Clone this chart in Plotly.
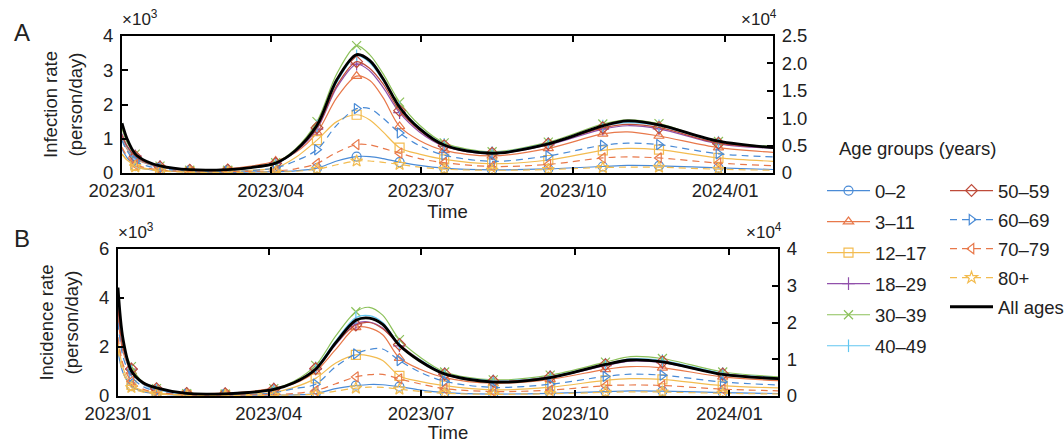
import plotly.graph_objects as go

# ---------------- data ----------------
DATES = ["2023-01-01", "2023-01-04", "2023-01-09", "2023-01-16", "2023-01-24",
         "2023-02-11", "2023-03-06", "2023-03-20", "2023-04-04", "2023-04-16",
         "2023-04-29", "2023-05-11", "2023-05-23", "2023-05-31", "2023-06-08",
         "2023-06-18", "2023-06-30", "2023-07-15", "2023-08-13", "2023-09-16",
         "2023-10-19", "2023-11-03", "2023-11-22", "2023-12-28", "2024-01-31"]
MARKER_DATES = ["2023-01-09", "2023-01-24", "2023-02-11", "2023-03-06", "2023-04-04",
                "2023-04-29", "2023-05-23", "2023-06-18", "2023-07-15", "2023-08-13",
                "2023-09-16", "2023-10-19", "2023-11-22", "2023-12-28"]
AGE_GROUPS = ["0–2", "3–11", "12–17", "18–29", "30–39", "40–49",
              "50–59", "60–69", "70–79", "80+"]
TOTAL_NAME = "All ages"
LEGEND_TITLE = "Age groups (years)"

# Infection rate (person/day)
INF_0_2   = [700, 450, 200, 110, 70, 30, 20, 30, 40, 60, 140, 350, 480, 480, 420, 320, 220, 140, 90, 120, 190, 220, 210, 150, 100]
INF_3_11  = [1000, 700, 420, 270, 170, 80, 120, 200, 350, 600, 1180, 2200, 2830, 2700, 2200, 1360, 950, 660, 500, 720, 1140, 1200, 1080, 740, 600]
INF_12_17 = [550, 380, 220, 130, 80, 30, 40, 80, 150, 450, 960, 1500, 1700, 1550, 1200, 740, 550, 400, 270, 380, 660, 720, 680, 440, 340]
INF_18_29 = [1150, 800, 500, 300, 190, 80, 80, 150, 280, 620, 1280, 2500, 3180, 2980, 2500, 1760, 1200, 780, 560, 820, 1280, 1380, 1290, 850, 720]
INF_30_39 = [1300, 900, 550, 330, 200, 80, 80, 150, 300, 700, 1500, 2900, 3720, 3450, 2900, 2070, 1400, 880, 620, 900, 1430, 1550, 1440, 920, 780]
INF_40_49 = [1050, 750, 450, 280, 170, 70, 80, 140, 270, 650, 1380, 2650, 3420, 3220, 2700, 1920, 1320, 840, 600, 870, 1370, 1470, 1380, 900, 760]
INF_50_59 = [1100, 780, 480, 290, 180, 80, 90, 150, 280, 650, 1320, 2550, 3250, 3050, 2600, 1820, 1250, 800, 580, 850, 1320, 1420, 1330, 870, 740]
INF_60_69 = [950, 650, 350, 210, 130, 50, 50, 70, 150, 350, 680, 1400, 1880, 1880, 1600, 1170, 800, 520, 340, 500, 810, 870, 830, 560, 470]
INF_70_79 = [750, 500, 250, 150, 90, 40, 40, 50, 60, 120, 280, 600, 830, 820, 720, 580, 420, 300, 190, 250, 440, 470, 440, 290, 210]
INF_80P   = [550, 380, 180, 110, 60, 20, 20, 20, 30, 50, 110, 240, 350, 350, 310, 250, 170, 110, 80, 100, 160, 170, 170, 110, 80]
INF_ALL   = [9100, 6300, 3500, 2100, 1300, 600, 620, 1000, 1800, 4100, 8700, 17000, 21600, 20500, 17200, 12000, 8100, 5100, 3600, 5300, 8600, 9500, 8800, 5800, 4600]

# Incidence rate (person/day)
INC_0_2   = [1800, 950, 400, 180, 100, 30, 20, 30, 40, 50, 100, 300, 420, 470, 460, 380, 250, 140, 80, 110, 180, 210, 200, 140, 100]
INC_3_11  = [3200, 1800, 1000, 500, 300, 120, 120, 180, 320, 500, 1000, 1900, 2800, 2780, 2500, 1550, 1100, 750, 520, 680, 1090, 1200, 1150, 780, 620]
INC_12_17 = [2200, 1150, 450, 220, 120, 40, 40, 70, 150, 350, 720, 1350, 1680, 1640, 1450, 820, 600, 420, 250, 360, 640, 710, 680, 420, 330]
INC_18_29 = [4200, 2200, 1100, 500, 280, 100, 80, 140, 280, 550, 1100, 2100, 2950, 3020, 2780, 2050, 1450, 880, 580, 760, 1240, 1420, 1360, 880, 700]
INC_30_39 = [3900, 2100, 1200, 550, 300, 100, 80, 140, 300, 600, 1250, 2450, 3440, 3620, 3300, 2300, 1600, 980, 660, 850, 1380, 1610, 1530, 980, 780]
INC_40_49 = [3700, 2000, 1000, 480, 260, 90, 80, 130, 270, 550, 1150, 2250, 3200, 3280, 3000, 2100, 1500, 930, 620, 800, 1300, 1520, 1450, 930, 740]
INC_50_59 = [3600, 1950, 1100, 500, 300, 100, 90, 140, 280, 550, 1120, 2150, 2900, 3000, 2750, 2100, 1480, 900, 600, 780, 1280, 1460, 1400, 900, 720]
INC_60_69 = [3000, 1600, 800, 380, 200, 60, 50, 60, 130, 300, 480, 1200, 1720, 1900, 1920, 1450, 980, 600, 350, 480, 800, 890, 850, 570, 450]
INC_70_79 = [2400, 1300, 600, 280, 150, 50, 40, 50, 60, 100, 220, 500, 780, 870, 880, 700, 500, 300, 180, 240, 420, 450, 430, 280, 210]
INC_80P   = [1900, 950, 350, 160, 90, 30, 20, 20, 30, 40, 80, 200, 320, 360, 350, 280, 190, 110, 70, 90, 150, 170, 160, 110, 80]
INC_ALL   = [29500, 15500, 6800, 3600, 2200, 700, 600, 950, 1800, 3600, 7300, 14500, 20600, 21200, 19500, 13800, 9600, 6000, 3800, 5000, 8600, 9800, 9300, 5900, 4700]

INF_GROUPS = [INF_0_2, INF_3_11, INF_12_17, INF_18_29, INF_30_39, INF_40_49, INF_50_59, INF_60_69, INF_70_79, INF_80P]
INC_GROUPS = [INC_0_2, INC_3_11, INC_12_17, INC_18_29, INC_30_39, INC_40_49, INC_50_59, INC_60_69, INC_70_79, INC_80P]

# axis ticks
INF_LEFT_TICKS = [0, 1000, 2000, 3000, 4000]
INF_LEFT_TEXT = ["0", "1", "2", "3", "4"]
INF_RIGHT_TICKS = [0, 5000, 10000, 15000, 20000, 25000]
INF_RIGHT_TEXT = ["0", "0.5", "1.0", "1.5", "2.0", "2.5"]
INC_LEFT_TICKS = [0, 2000, 4000, 6000]
INC_LEFT_TEXT = ["0", "2", "4", "6"]
INC_RIGHT_TICKS = [0, 10000, 20000, 30000, 40000]
INC_RIGHT_TEXT = ["0", "1", "2", "3", "4"]

# ---------------- styles ----------------
BLUE, ORANGE, YELLOW = "#4A8BD6", "#E8784A", "#F3BC50"
STYLES = {
    "0–2":   (BLUE, "solid", "circle-open"),
    "3–11":  (ORANGE, "solid", "triangle-up-open"),
    "12–17": (YELLOW, "solid", "square-open"),
    "18–29": ("#9150AB", "solid", "cross-thin-open"),
    "30–39": ("#8CC15A", "solid", "x-thin-open"),
    "40–49": ("#62C6F0", "solid", "line-ns-open"),
    "50–59": ("#BE4B3A", "solid", "diamond-open"),
    "60–69": (BLUE, "7px,5px", "triangle-right-open"),
    "70–79": (ORANGE, "7px,5px", "triangle-left-open"),
    "80+":   (YELLOW, "7px,5px", "star-open"),
}
FONT = "Liberation Sans, Arial, Helvetica, sans-serif"
TXT = "#222222"
FS = 18.5
W, H = 1064, 443

fig = go.Figure()
marker_idx = [DATES.index(m) for m in MARKER_DATES]


def add_panel(groups, total, xa, ya, ya_right):
    for name, vals in zip(AGE_GROUPS, groups):
        c, dash, sym = STYLES[name]
        fig.add_trace(go.Scatter(
            x=DATES, y=vals, mode="lines", xaxis=xa, yaxis=ya,
            line=dict(color=c, width=1.2, dash=dash, shape="spline", smoothing=0.9),
            showlegend=False, hoverinfo="skip"))
        fig.add_trace(go.Scatter(
            x=MARKER_DATES, y=[vals[i] for i in marker_idx], mode="markers",
            xaxis=xa, yaxis=ya,
            marker=dict(symbol=sym, size=9, color=c, line=dict(color=c, width=1.2)),
            showlegend=False, hoverinfo="skip"))
    fig.add_trace(go.Scatter(
        x=DATES, y=total, mode="lines", xaxis=xa, yaxis=ya_right,
        line=dict(color="black", width=2.8, shape="spline", smoothing=0.9),
        showlegend=False, hoverinfo="skip"))


add_panel(INF_GROUPS, INF_ALL, "x", "y", "y2")
add_panel(INC_GROUPS, INC_ALL, "x2", "y3", "y4")

# legend-only entries (two columns)
for k, name in enumerate(AGE_GROUPS):
    c, dash, sym = STYLES[name]
    fig.add_trace(go.Scatter(
        x=[None], y=[None], mode="lines+markers", name=name,
        legend="legend" if k < 6 else "legend2", legendgroup=name,
        line=dict(color=c, width=1.2, dash=dash),
        marker=dict(symbol=sym, size=9, color=c, line=dict(color=c, width=1.2)),
        xaxis="x", yaxis="y"))
fig.add_trace(go.Scatter(
    x=[None], y=[None], mode="lines", name=TOTAL_NAME, legend="legend2",
    legendgroup=TOTAL_NAME, line=dict(color="black", width=3), xaxis="x", yaxis="y"))


def xaxis_cfg(x0, x1, anchor):
    return dict(domain=[x0 / W, x1 / W], anchor=anchor, type="date", automargin=False,
                range=["2023-01-01", "2024-01-30"], tick0="2023-01-01", dtick="M3",
                tickformat="%Y/%m", ticks="inside", ticklen=6, tickwidth=1.5,
                tickcolor="black", showline=True, linewidth=2, linecolor="black",
                mirror="ticks", showgrid=False, zeroline=False,
                tickfont=dict(size=FS, color=TXT),
                title=dict(text="Time", standoff=2, font=dict(size=FS, color=TXT)))


def yaxis_cfg(y_top, y_bot, anchor, rng, tv, tt, title=None, right=False, over=None):
    d = dict(anchor=anchor, range=rng, tickvals=tv, ticktext=tt, ticks="inside",
             automargin=False,
             ticklen=6, tickwidth=1.5, tickcolor="black", showline=True, linewidth=2,
             linecolor="black", showgrid=False, zeroline=False,
             tickfont=dict(size=FS, color=TXT), ticklabelstandoff=3)
    if right:
        d.update(side="right", overlaying=over)
    else:
        d.update(domain=[1 - y_bot / H, 1 - y_top / H])
    if title:
        d["title"] = dict(text=title, standoff=16, font=dict(size=FS, color=TXT))
    return d


fig.update_layout(
    width=W, height=H, margin=dict(l=0, r=0, t=0, b=0, autoexpand=False),
    paper_bgcolor="white", plot_bgcolor="white",
    font=dict(family=FONT, size=FS, color=TXT),
    xaxis=xaxis_cfg(122, 773, "y"),
    xaxis2=xaxis_cfg(118, 778, "y3"),
    yaxis=yaxis_cfg(36, 173, "x", [0, 4000], INF_LEFT_TICKS, INF_LEFT_TEXT,
                    title="Infection rate<br>(person/day)"),
    yaxis2=yaxis_cfg(36, 173, "x", [0, 25000], INF_RIGHT_TICKS, INF_RIGHT_TEXT,
                     right=True, over="y"),
    yaxis3=yaxis_cfg(249, 396, "x2", [0, 6000], INC_LEFT_TICKS, INC_LEFT_TEXT,
                     title="Incidence rate<br>(person/day)"),
    yaxis4=yaxis_cfg(249, 396, "x2", [0, 40000], INC_RIGHT_TICKS, INC_RIGHT_TEXT,
                     right=True, over="y3"),
    legend=dict(x=822 / W, y=1 - 172 / H, xanchor="left", yanchor="top",
                bgcolor="rgba(0,0,0,0)", tracegroupgap=4, itemwidth=43,
                font=dict(size=FS, color=TXT)),
    legend2=dict(x=945 / W, y=1 - 172 / H, xanchor="left", yanchor="top",
                 bgcolor="rgba(0,0,0,0)", tracegroupgap=2, itemwidth=43,
                 font=dict(size=FS, color=TXT)),
)

ann = [
    dict(text="A", x=12 / W, y=1 - 32 / H, font=dict(size=24, color=TXT)),
    dict(text="B", x=12 / W, y=1 - 239 / H, font=dict(size=24, color=TXT)),
    dict(text=LEGEND_TITLE, x=837 / W, y=1 - 148 / H, font=dict(size=FS, color=TXT)),
]
for a in ann:
    a.update(xref="paper", yref="paper", xanchor="left", yanchor="middle", showarrow=False)

exps = [
    ("×10<sup>3</sup>", 120, 31, "left"),
    ("×10<sup>4</sup>", 779, 31, "right"),
    ("×10<sup>3</sup>", 116, 244, "left"),
    ("×10<sup>4</sup>", 784, 244, "right"),
]
for txt, px, py, anc in exps:
    ann.append(dict(text=txt, x=px / W, y=1 - py / H, xref="paper", yref="paper",
                    xanchor=anc, yanchor="bottom", showarrow=False,
                    font=dict(size=17, color=TXT)))
fig.update_layout(annotations=ann)

fig.write_html("out.html")
